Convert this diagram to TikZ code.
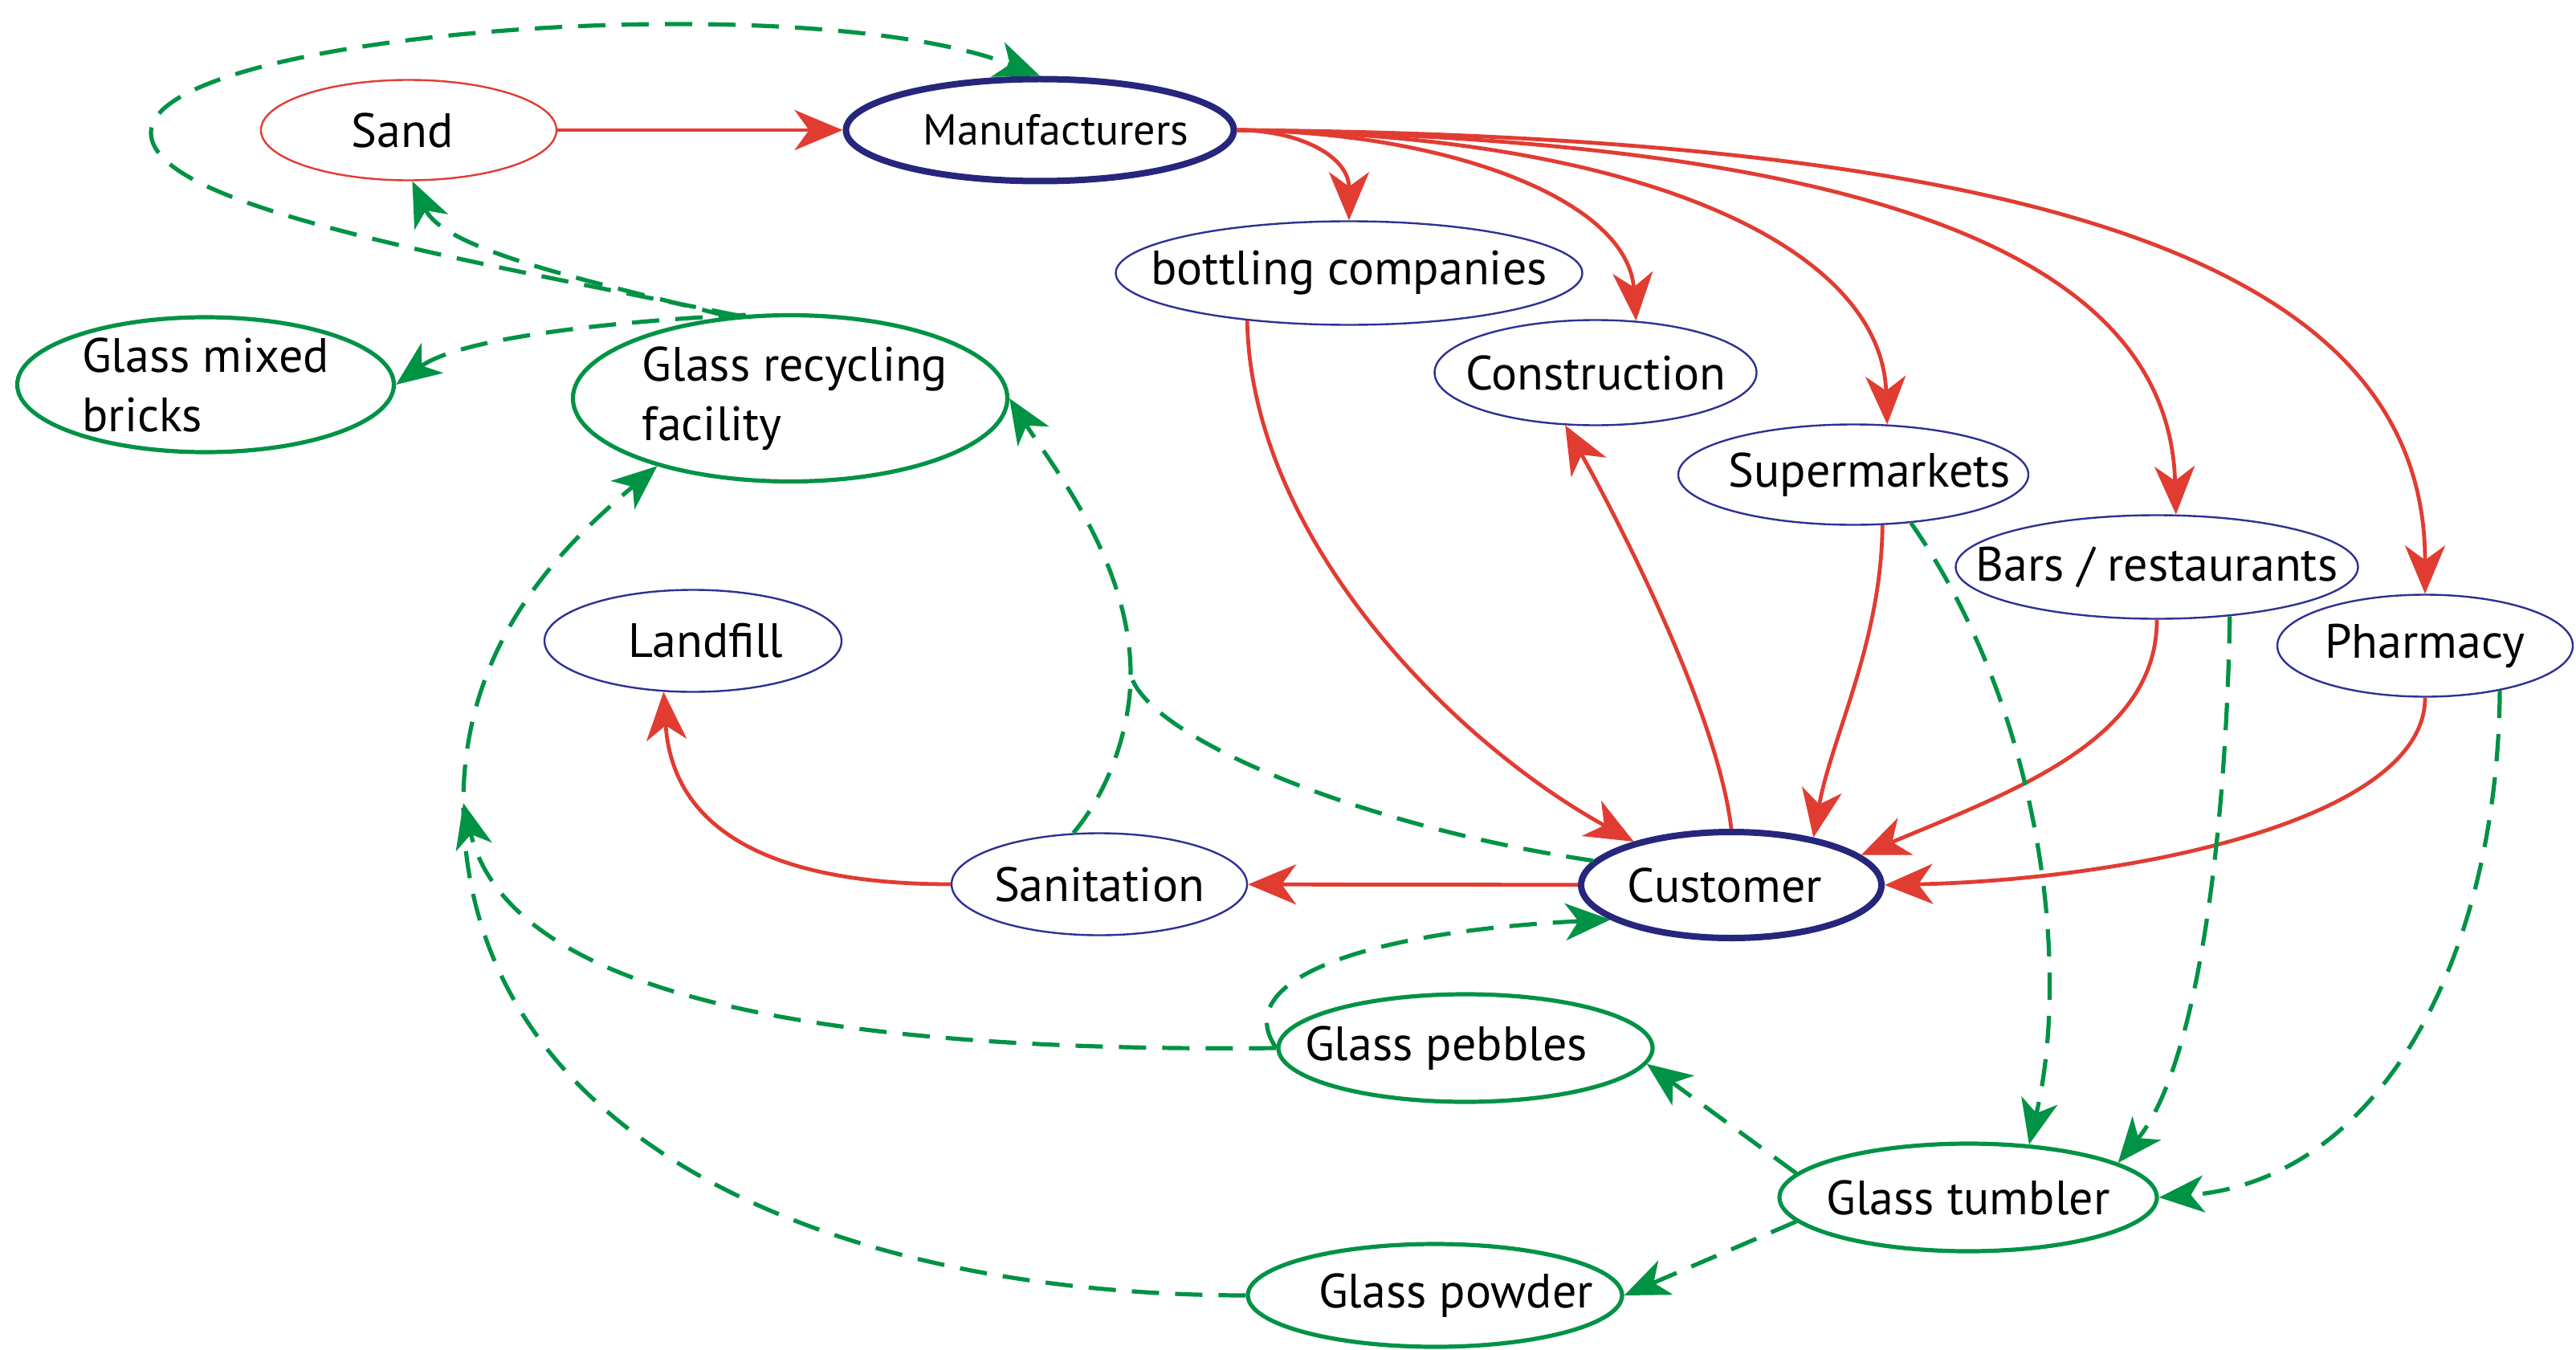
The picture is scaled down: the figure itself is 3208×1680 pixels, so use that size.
\documentclass[tikz,border=0pt]{standalone}
\usepackage{fontspec}
\setmainfont{PT Sans}
\usetikzlibrary{shapes.geometric,arrows.meta}

\definecolor{flowred}{RGB}{225,60,50}
\definecolor{reusegreen}{RGB}{0,146,69}
\definecolor{edgeblue}{RGB}{46,49,146}
\definecolor{hubblue}{RGB}{38,38,125}

\begin{document}
\begin{tikzpicture}[x=0.25pt,y=-0.25pt,
        font=\fontsize{15}{18.5}\selectfont,
        every label/.style={inner sep=0pt},
        dims/.style 2 args={minimum width=#1*0.25pt,minimum height=#2*0.25pt},
        place/.style={ellipse,draw=edgeblue,line width=0.6pt,inner sep=0pt},
        hubplace/.style={place,draw=hubblue,line width=2pt},
        reuseplace/.style={place,draw=reusegreen,line width=1.3pt},
        supplyline/.style={draw=flowred,line width=1.2pt,-{Stealth[length=15pt,width=12.5pt,inset=4.5pt]}},
        returnline/.style={draw=reusegreen,line width=1.3pt,dash pattern=on 8.5pt off 5pt,-{Stealth[length=14pt,width=11.5pt,inset=4pt]}}]

        \useasboundingbox (0,0) rectangle (3208,1680);

        % places
        \node[place,draw=flowred,dims={368}{125},label={[xshift=-2pt]center:Sand}] (sand) at (509,162) {};
        \node[hubplace,dims={483}{127},label={[xshift=5pt,font=\fontsize{13.5}{15}\selectfont]center:Manufacturers}] (manuf) at (1295,162) {};
        \node[place,dims={581}{129},label=center:bottling companies] (bottling) at (1680,340) {};
        \node[place,dims={401}{131},label=center:Construction] (constr) at (1987,464) {};
        \node[place,dims={436}{125},label={[xshift=5pt]center:Supermarkets}] (super) at (2308,591) {};
        \node[place,dims={501}{129},label=center:Bars / restaurants] (bars) at (2686,706) {};
        \node[place,dims={368}{127},label=center:Pharmacy] (pharm) at (3020,804) {};
        \node[place,dims={370}{127},label={[xshift=4pt]center:Landfill}] (landfill) at (863,798) {};
        \node[place,dims={368}{127},label=center:Sanitation] (sanit) at (1369,1101) {};
        \node[hubplace,dims={374}{132},label={[xshift=-2pt]center:Customer}] (cust) at (2156,1102) {};
        \node[reuseplace,dims={469}{168},label={[align=left]center:Glass mixed\\bricks}] (bricks) at (256,479) {};
        \node[reuseplace,dims={541}{207},label={[align=left,xshift=1.5pt]center:Glass recycling\\facility}] (recycle) at (984,496) {};
        \node[reuseplace,dims={466}{134},label={[xshift=-6pt]center:Glass pebbles}] (pebbles) at (1825,1305) {};
        \node[reuseplace,dims={470}{134},label=center:Glass tumbler] (tumbler) at (2451,1491) {};
        \node[reuseplace,dims={466}{128},label={[xshift=6.5pt]center:Glass powder}] (powder) at (1787,1613) {};

        % supply chain
        \draw[supplyline] (sand) -- (manuf);
        \draw[supplyline] (manuf.east) .. controls (1617,162) and (1680,194) .. (bottling.north);
        \draw[supplyline] (manuf.east) .. controls (1800,164) and (2027,248) .. (constr.52);
        \draw[supplyline] (manuf.east) .. controls (2046,168) and (2343,308) .. (super.56);
        \draw[supplyline] (manuf.east) .. controls (2353,174) and (2701,327) .. (bars.70);
        \draw[supplyline] (manuf.east) .. controls (2600,170) and (3020,350) .. (pharm.north);
        \draw[supplyline] (bottling.-155) .. controls (1558,668) and (1806,922) .. (cust.156);
        \draw[supplyline] (cust.north) .. controls (2139,885) and (2010,638) .. (constr.-120);
        \draw[supplyline] (super.-60) .. controls (2343,800) and (2280,920) .. (cust.30);
        \draw[supplyline] (bars.south) .. controls (2686,920) and (2513,983) .. (cust.13);
        \draw[supplyline] (pharm.south) .. controls (3020,1020) and (2658,1095) .. (cust.east);
        \draw[supplyline] (cust) -- (sanit);
        \draw[supplyline] (sanit.west) .. controls (954,1101) and (837,1030) .. (landfill.-120);

        % glass coming back
        \coordinate (join) at (1408,840);
        \coordinate (meet) at (577,1000);
        \draw[returnline] (recycle.122) .. controls (500,310) and (188,250) .. (188,165) .. controls (188,40) and (1000,-20) .. (manuf.north);
        \draw[returnline] (recycle.127) .. controls (760,355) and (555,315) .. (sand.-86);
        \draw[returnline] (recycle.118) .. controls (780,399) and (575,419) .. (bricks.east);
        \draw[returnline,-] (sanit.117) .. controls (1385,980) and (1408,900) .. (join);
        \draw[returnline,-] (cust.170) .. controls (1700,1030) and (1430,920) .. (join);
        \draw[returnline] (join) .. controls (1408,700) and (1310,580) .. (recycle.east);
        \draw[returnline] (pebbles.west) .. controls (1530,1220) and (1700,1160) .. (cust.-164);
        \draw[returnline] (pebbles.west) .. controls (1100,1310) and (640,1260) .. (meet);
        \draw[returnline] (powder.west) .. controls (1000,1612) and (577,1400) .. (meet) .. controls (577,800) and (700,680) .. (recycle.-153);
        \draw[returnline] (super.-40) .. controls (2540,880) and (2580,1200) .. (tumbler.41);
        \draw[returnline] (bars.-34) .. controls (2772,1050) and (2735,1330) .. (tumbler.13);
        \draw[returnline] (pharm.-31) .. controls (3110,1200) and (2960,1470) .. (tumbler.east);
        \draw[returnline] (tumbler.172) -- (pebbles.-5);
        \draw[returnline] (tumbler.188) -- (powder.east);
\end{tikzpicture}
\end{document}
